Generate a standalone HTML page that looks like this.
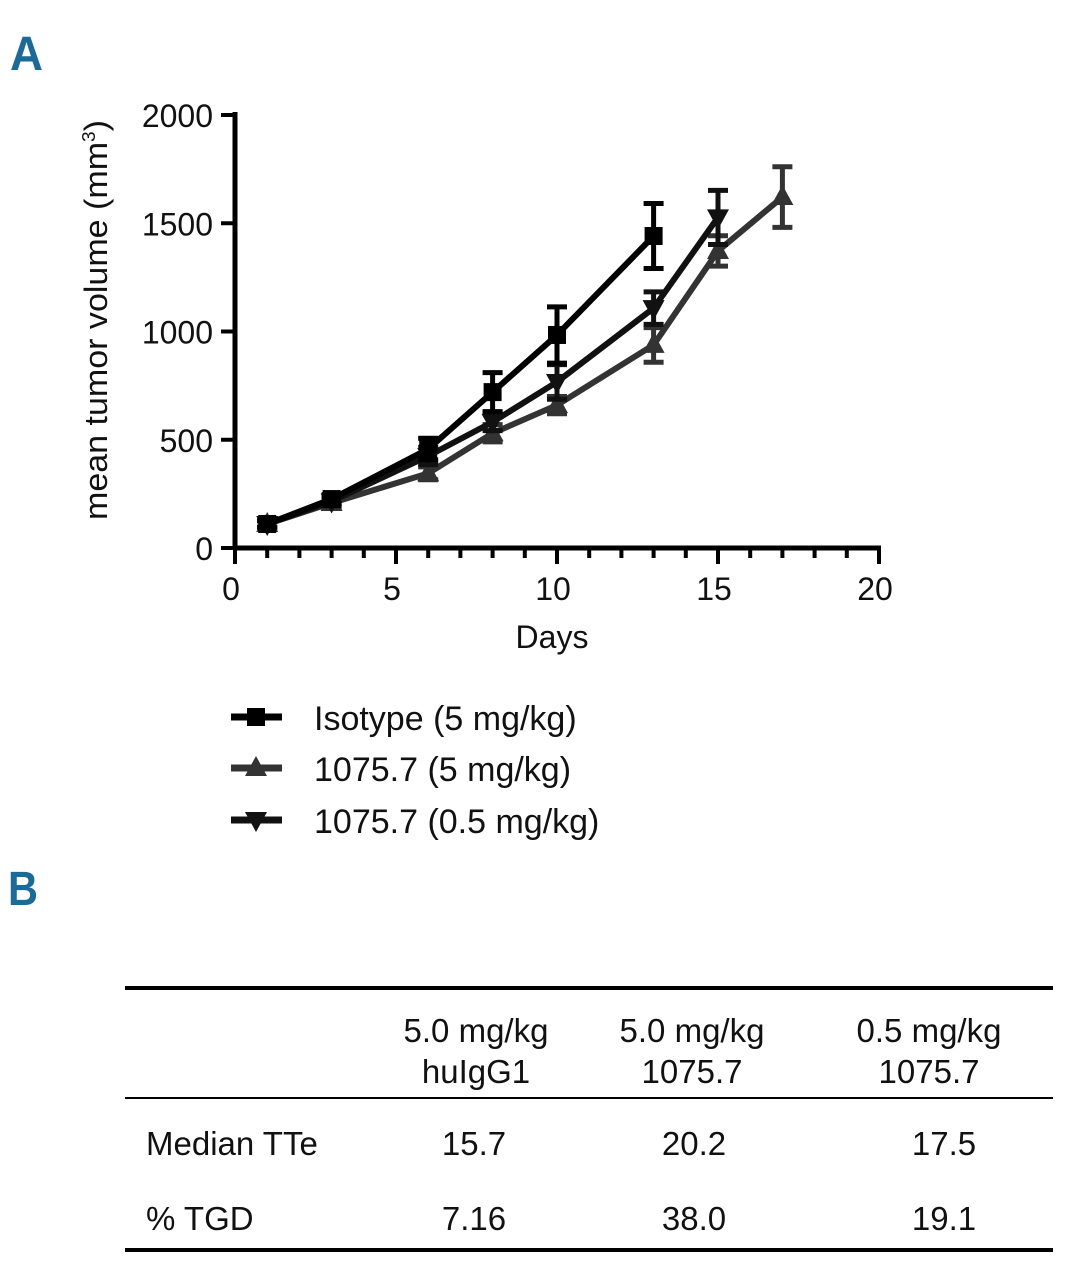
<!DOCTYPE html>
<html><head><meta charset="utf-8"><style>
html,body{margin:0;padding:0;background:#fff;}
svg{display:block;font-family:"Liberation Sans",sans-serif;}
</style></head><body>
<svg id="fig" width="1090" height="1280" viewBox="0 0 1090 1280">
<text x="10" y="70" font-size="48" font-weight="bold" fill="#1a6a9a" textLength="33" lengthAdjust="spacingAndGlyphs">A</text>
<text x="8" y="905" font-size="48" font-weight="bold" fill="#1a6a9a" textLength="30" lengthAdjust="spacingAndGlyphs">B</text>
<g id="chart"></g>
<g id="legend"></g>
<g>
<line x1="125" y1="988" x2="1053" y2="988" stroke="#000" stroke-width="4"/>
<line x1="125" y1="1098" x2="1053" y2="1098" stroke="#000" stroke-width="2"/>
<line x1="125" y1="1250" x2="1053" y2="1250" stroke="#000" stroke-width="4"/>
<g font-size="33" text-anchor="middle" fill="#111">
<text x="476" y="1042">5.0 mg/kg</text>
<text x="476" y="1083">huIgG1</text>
<text x="692" y="1042">5.0 mg/kg</text>
<text x="692" y="1083">1075.7</text>
<text x="929" y="1042">0.5 mg/kg</text>
<text x="929" y="1083">1075.7</text>
<text x="474" y="1155">15.7</text>
<text x="694" y="1155">20.2</text>
<text x="944" y="1155">17.5</text>
<text x="474" y="1230">7.16</text>
<text x="694" y="1230">38.0</text>
<text x="944" y="1230">19.1</text>
</g>
<text x="146" y="1155" font-size="33" fill="#111">Median TTe</text>
<text x="146" y="1230" font-size="33" fill="#111">% TGD</text>
</g>
</svg>
<script>
const days1 = [1,3,6,8,10,13];
const iso = [111,226,457,720,984,1441];
const isoErr = [15,20,50,90,130,150];
const days2 = [1,3,6,8,10,13,15,17];
const hi = [111,208,345,530,660,938,1372,1621];
const hiErr = [15,20,30,40,40,80,70,140];
const days3 = [1,3,6,8,10,13,15];
const lo = [111,215,425,582,767,1108,1527];
const loErr = [15,20,40,40,80,75,125];
const xTicks = [0,5,10,15,20];
const yTicks = [0,500,1000,1500,2000];

const NS="http://www.w3.org/2000/svg";
const X0=235,X1=879,Y0=548,Y1=115;
const sx=d=>X0+(X1-X0)*d/20;
const sy=v=>Y0-(Y0-Y1)*v/2000;
const chart=document.getElementById('chart');
function mk(tag,attrs,parent){const e=document.createElementNS(NS,tag);for(const k in attrs)e.setAttribute(k,attrs[k]);(parent||chart).appendChild(e);return e;}

// axes
let a=mk('line',{x1:X0,y1:Y1-3,x2:X0,y2:Y0+2,stroke:'#000','stroke-width':5});


a=mk('line',{x1:X0-2,y1:Y0,x2:X1+2,y2:Y0,stroke:'#000','stroke-width':5});


for(let d=0;d<=20;d++){
  const t=mk('line',{x1:sx(d),y1:Y0,x2:sx(d),y2:Y0+(d%5===0?16:10),stroke:'#000','stroke-width':4});
  
  
}
xTicks.forEach(d=>{
  const t=mk('text',{x:sx(d)-4,y:600,'font-size':32,'text-anchor':'middle',fill:'#111'});
  t.textContent=d;
  
  
});
yTicks.forEach(v=>{
  const l=mk('line',{x1:X0-14,y1:sy(v),x2:X0,y2:sy(v),stroke:'#000','stroke-width':4});
  
  
  const t=mk('text',{x:213,y:sy(v)+12,'font-size':32,'text-anchor':'end',fill:'#111'});
  t.textContent=v;
  
  
});
let tt=mk('text',{x:552,y:648,'font-size':32,'text-anchor':'middle',fill:'#111'});
tt.textContent='Days';


tt=mk('text',{x:0,y:0,'font-size':32,'text-anchor':'middle',fill:'#111',transform:'translate(107,320) rotate(-90)',textLength:400,lengthAdjust:'spacingAndGlyphs'});
tt.innerHTML='mean tumor volume (mm<tspan font-size="18" dy="-12">3</tspan><tspan dy="12">)</tspan>';



function marker(type,x,y,col,parent){
  let e;
  if(type==='sq') e=mk('rect',{x:x-9,y:y-9,width:18,height:18,fill:col},parent);
  else if(type==='up') e=mk('polygon',{points:`${x},${y-12} ${x-11},${y+8} ${x+11},${y+8}`,fill:col},parent);
  else e=mk('polygon',{points:`${x},${y+12} ${x-11},${y-8} ${x+11},${y-8}`,fill:col},parent);
  return e;
}
function series(name,days,vals,errs,col,type){
  const g=mk('g',{});
  
  
  const p=mk('polyline',{points:days.map((d,i)=>sx(d)+','+sy(vals[i])).join(' '),fill:'none',stroke:col,'stroke-width':6,'stroke-linejoin':'round'},g);
  
  
  days.forEach((d,i)=>{
    const x=sx(d),t=sy(vals[i]+errs[i]),b=sy(vals[i]-errs[i]);
    const e=mk('path',{d:`M${x},${t}V${b}M${x-10},${t}H${x+10}M${x-10},${b}H${x+10}`,stroke:col,'stroke-width':5,fill:'none'},g);
    
    
    const m=marker(type,x,sy(vals[i]),col,g);
    
    
  });
}
series('series-1075-7-5mg',days2,hi,hiErr,'#333','up');
series('series-1075-7-0-5mg',days3,lo,loErr,'#111','down');
series('series-isotype',days1,iso,isoErr,'#000','sq');

// legend
const leg=document.getElementById('legend');
const entries=[['Isotype (5 mg/kg)','#000','sq',717],['1075.7 (5 mg/kg)','#333','up',768],['1075.7 (0.5 mg/kg)','#111','down',820]];
entries.forEach(([lab,col,type,y])=>{
  const g=mk('g',{},leg);
  
  
  mk('line',{x1:231,y1:y,x2:282,y2:y,stroke:col,'stroke-width':7},g);
  marker(type,256,y,col,g);
  const t=mk('text',{x:314,y:y+13,'font-size':34,fill:'#111'},g);
  t.textContent=lab;
});
</script>
</body></html>
